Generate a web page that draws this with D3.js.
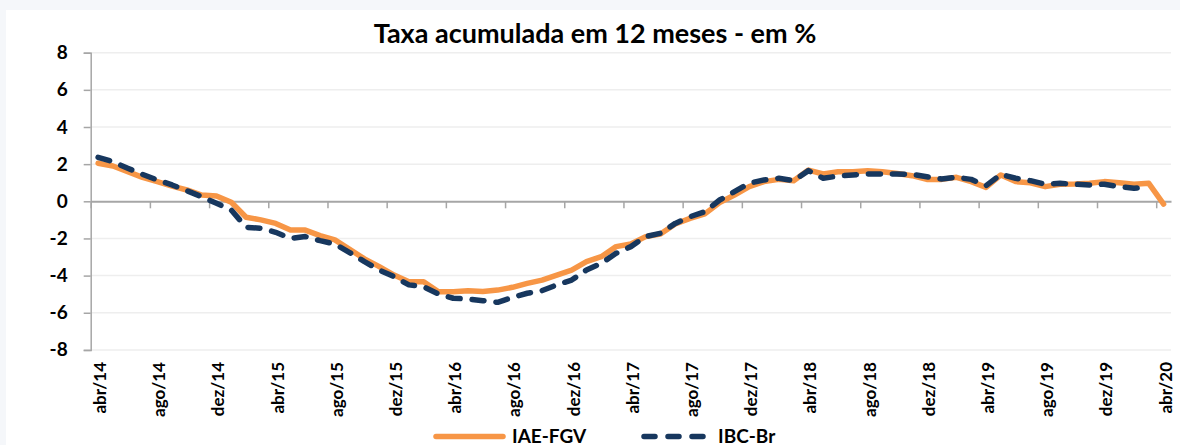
<!DOCTYPE html>
<html>
<head>
<meta charset="utf-8">
<script src="https://cdn.jsdelivr.net/npm/d3@7"></script>
<style>
  body { margin: 0; background: #f5f7fa; }
  svg { display: block; }
</style>
</head>
<body>
<script>
var width = 1180, height = 445;

// categories, one per month (abr/14 .. abr/20)
var months = [
  "abr/14","mai/14","jun/14","jul/14","ago/14","set/14","out/14","nov/14","dez/14",
  "jan/15","fev/15","mar/15","abr/15","mai/15","jun/15","jul/15","ago/15","set/15","out/15","nov/15","dez/15",
  "jan/16","fev/16","mar/16","abr/16","mai/16","jun/16","jul/16","ago/16","set/16","out/16","nov/16","dez/16",
  "jan/17","fev/17","mar/17","abr/17","mai/17","jun/17","jul/17","ago/17","set/17","out/17","nov/17","dez/17",
  "jan/18","fev/18","mar/18","abr/18","mai/18","jun/18","jul/18","ago/18","set/18","out/18","nov/18","dez/18",
  "jan/19","fev/19","mar/19","abr/19","mai/19","jun/19","jul/19","ago/19","set/19","out/19","nov/19","dez/19",
  "jan/20","fev/20","mar/20","abr/20"
];

var tickLabels = ["abr/14","ago/14","dez/14","abr/15","ago/15","dez/15","abr/16","ago/16","dez/16",
  "abr/17","ago/17","dez/17","abr/18","ago/18","dez/18","abr/19","ago/19","dez/19","abr/20"];

var yTicks = [-8, -6, -4, -2, 0, 2, 4, 6, 8];

var iae = [2.05,1.9,1.6,1.29,1.06,0.82,0.61,0.34,0.29,-0.05,
  -0.86,-1.0,-1.19,-1.55,-1.55,-1.85,-2.08,-2.58,-3.1,-3.52,
  -3.97,-4.33,-4.33,-4.87,-4.87,-4.81,-4.85,-4.78,-4.63,-4.42,
  -4.24,-3.97,-3.7,-3.25,-2.98,-2.44,-2.3,-1.9,-1.76,-1.22,
  -0.92,-0.68,-0.07,0.34,0.79,1.06,1.18,1.11,1.68,1.47,
  1.59,1.59,1.65,1.59,1.5,1.38,1.18,1.18,1.29,1.06,
  0.75,1.42,1.06,1.0,0.79,0.92,0.93,0.97,1.06,1.0,
  0.92,0.97,-0.15];

var ibc = [2.37,2.13,1.78,1.45,1.15,0.88,0.57,0.25,-0.11,-0.47,
  -1.40,-1.45,-1.67,-2.0,-1.9,-2.12,-2.3,-2.76,-3.25,-3.7,
  -4.06,-4.5,-4.6,-4.99,-5.22,-5.26,-5.35,-5.44,-5.17,-4.95,
  -4.81,-4.5,-4.24,-3.7,-3.34,-2.8,-2.44,-1.9,-1.72,-1.19,
  -0.83,-0.56,0.07,0.52,0.97,1.15,1.24,1.11,1.65,1.24,
  1.36,1.42,1.47,1.47,1.47,1.45,1.32,1.2,1.29,1.18,
  0.84,1.45,1.24,1.11,0.92,0.97,0.92,0.88,0.92,0.79,
  0.7,0.75,null];

var orange = "#f79646";
var navy = "#17375e";
var font = "Lato, 'Open Sans', sans-serif";

// plot area (note: "top" is taken by window.top, so use plotTop)
var plotLeft = 90.7, plotRight = 1171, plotTop = 52.7, plotBottom = 349.9;

var svg = d3.select("body").append("svg")
  .attr("width", width)
  .attr("height", height);

// white panel
svg.append("rect")
  .attr("x", 6).attr("y", 10)
  .attr("width", width - 6).attr("height", height - 10)
  .attr("fill", "white");

// x as month index, categories sit in the middle of each slot
var x = d3.scaleLinear().domain([0, months.length]).range([plotLeft, plotRight]);
var y = d3.scaleLinear().domain([-8, 8]).range([plotBottom, plotTop]);

function cx(i) { return x(i + 0.5); }

// gridlines
svg.append("g")
  .selectAll("line")
  .data(yTicks.filter(function(d){ return d != 0; }))
  .enter().append("line")
  .attr("x1", plotLeft).attr("x2", plotRight)
  .attr("y1", function(d){ return y(d); })
  .attr("y2", function(d){ return y(d); })
  .attr("stroke", "#eeeeee")
  .attr("stroke-width", 1.5);

// y axis (plain hyphen for negatives, like the original)
var yAxis = svg.append("g")
  .attr("transform", "translate(" + plotLeft + ",0)")
  .call(d3.axisLeft(y).tickValues(yTicks).tickSize(7).tickPadding(16).tickFormat(function(d){ return String(d); }));
yAxis.select(".domain").attr("stroke", "#a6a6a6").attr("stroke-width", 1.5);
yAxis.selectAll(".tick line").attr("stroke", "#a6a6a6").attr("stroke-width", 1.5);
yAxis.selectAll("text")
  .attr("font-family", font)
  .attr("font-weight", "bold")
  .attr("font-size", "19px")
  .attr("fill", "#000");

// x axis along zero, ticks between every 4th month
var tickIdx = d3.range(0, months.length, 4);
var xAxis = svg.append("g")
  .attr("transform", "translate(0," + y(0) + ")")
  .call(d3.axisBottom(x).tickValues(tickIdx).tickSize(7).tickSizeOuter(0).tickFormat(""));
xAxis.select(".domain").attr("stroke", "#a6a6a6").attr("stroke-width", 2);
xAxis.selectAll(".tick line").attr("stroke", "#a6a6a6").attr("stroke-width", 1.5);

// month labels, rotated
svg.append("g")
  .selectAll("text")
  .data(tickLabels)
  .enter().append("text")
  .attr("transform", function(d){
    return "translate(" + (cx(months.indexOf(d)) + 2) + ",362) rotate(-90)";
  })
  .attr("dy", "0.35em")
  .attr("text-anchor", "end")
  .attr("font-family", font)
  .attr("font-weight", "bold")
  .attr("font-size", "17px")
  .text(function(d){ return d; });

var line = d3.line()
  .defined(function(d){ return d != null; })
  .x(function(d, i){ return cx(i); })
  .y(function(d){ return y(d); });

svg.append("path")
  .datum(iae)
  .attr("d", line)
  .attr("fill", "none")
  .attr("stroke", orange)
  .attr("stroke-width", 5.5)
  .attr("stroke-linejoin", "round")
  .attr("stroke-linecap", "round");

svg.append("path")
  .datum(ibc)
  .attr("d", line)
  .attr("fill", "none")
  .attr("stroke", navy)
  .attr("stroke-width", 5.5)
  .attr("stroke-dasharray", "12,12")
  .attr("stroke-linejoin", "round")
  .attr("stroke-linecap", "round");

// title
svg.append("text")
  .attr("x", 595).attr("y", 43)
  .attr("text-anchor", "middle")
  .attr("font-family", font)
  .attr("font-weight", "bold")
  .attr("font-size", "27px")
  .text("Taxa acumulada em 12 meses - em %");

// legend
var legend = [
  { name: "IAE-FGV", color: orange, dash: null, x1: 436, x2: 503, tx: 512 },
  { name: "IBC-Br", color: navy, dash: "11,13", x1: 644, x2: 704, tx: 718 }
];
var lg = svg.append("g").selectAll("g").data(legend).enter().append("g");
lg.append("line")
  .attr("x1", function(d){ return d.x1; })
  .attr("x2", function(d){ return d.x2; })
  .attr("y1", 436.5).attr("y2", 436.5)
  .attr("stroke", function(d){ return d.color; })
  .attr("stroke-width", 5.5)
  .attr("stroke-linecap", "round")
  .attr("stroke-dasharray", function(d){ return d.dash; });
lg.append("text")
  .attr("x", function(d){ return d.tx; })
  .attr("y", 442.5)
  .attr("font-family", font)
  .attr("font-weight", "bold")
  .attr("font-size", "19px")
  .text(function(d){ return d.name; });
</script>
</body>
</html>
